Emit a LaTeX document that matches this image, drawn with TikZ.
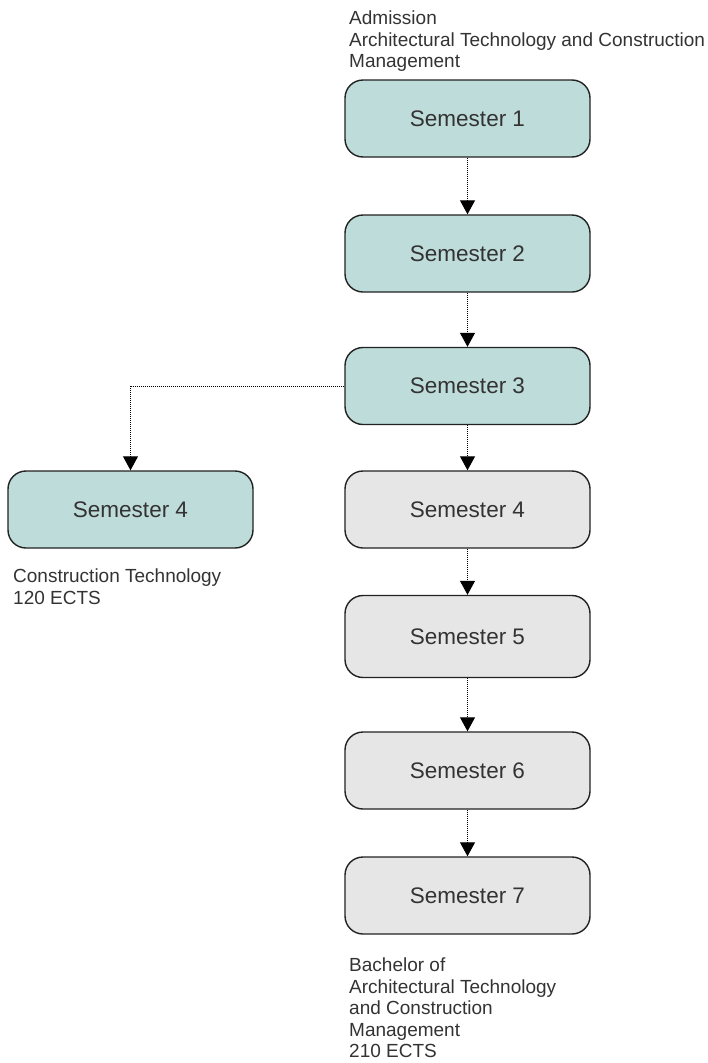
\documentclass[tikz,border=0pt]{standalone}
\usepackage{fontspec}
\setmainfont{Liberation Sans}
\usetikzlibrary{arrows.meta}
\definecolor{tealfill}{HTML}{BEDCD9}
\definecolor{grayfill}{HTML}{E6E6E6}
\definecolor{txt}{HTML}{333333}
\definecolor{edge}{HTML}{222222}
\tikzset{
  sembox/.style={draw=edge, line width=1.4pt, rounded corners=18pt, minimum width=245pt, minimum height=77pt, inner sep=0pt, text=txt, font=\fontsize{22.5}{26}\selectfont},
  teal/.style={sembox, fill=tealfill},
  grey/.style={sembox, fill=grayfill},
  lbl/.style={anchor=north west, align=left, inner sep=0pt, text=txt, font=\fontsize{19}{21.5}\selectfont},
  conn/.style={draw=black, line width=1pt, dash pattern=on 1pt off 1pt, -{Triangle[length=14pt,width=15pt]}}
}
\begin{document}
\begin{tikzpicture}[x=1pt,y=-1pt]
\useasboundingbox (0,0) rectangle (707,1063);
\node[teal] (s1) at (467.5,118.5) {Semester 1};
\node[teal] (s2) at (467.5,253.5) {Semester 2};
\node[teal] (s3) at (467.5,386) {Semester 3};
\node[grey] (s4) at (467.5,509.5) {Semester 4};
\node[grey, minimum height=82pt] (s5) at (467.5,636.5) {Semester 5};
\node[grey] (s6) at (467.5,770.5) {Semester 6};
\node[grey] (s7) at (467.5,895.5) {Semester 7};
\node[teal] (l4) at (130.5,509.5) {Semester 4};

\node[lbl] (adm) at (349,11) {Admission\\Architectural Technology and Construction\\Management};
\node[lbl] (ct) at (13,569) {Construction Technology\\120 ECTS};
\node[lbl] (ba) at (349,958) {Bachelor of\\Architectural Technology\\and Construction\\Management\\210 ECTS};

\draw[conn] (s1) -- (s2);
\draw[conn] (s2) -- (s3);
\draw[conn] (s3) -- (s4);
\draw[conn] (s4) -- (s5);
\draw[conn] (s5) -- (s6);
\draw[conn] (s6) -- (s7);
\draw[conn] (s3.west) -| (l4.north);
\end{tikzpicture}
\end{document}
